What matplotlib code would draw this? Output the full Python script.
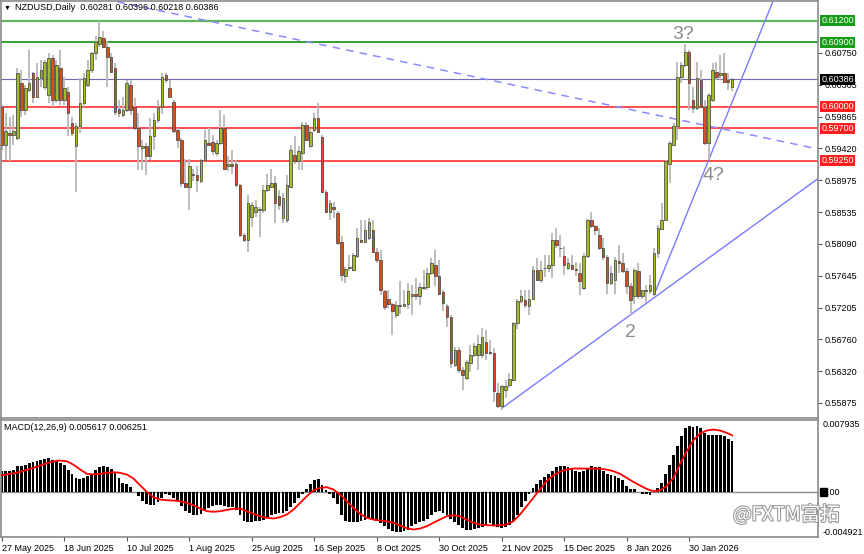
import numpy as np
import matplotlib
matplotlib.use('Agg')
import matplotlib.pyplot as plt
import matplotlib.transforms as mtransforms
import matplotlib.patheffects as pe
from matplotlib.patches import Rectangle

plt.rcParams['font.family'] = ['Liberation Sans', 'DejaVu Sans']

# NZDUSD daily candles, bar 0 = 27 May 2025
opens = [.6000, .5947, .5963, .5961, .5956, .6033, .5996, .6024, .6047, .6014,
         .6040, .6028, .6017, .6068, .6010, .6054, .6010, .6020, .5977, .5945,
         .5973, .6005, .6031, .6051, .6075, .6087, .6096, .6084, .6070, .6054,
         .5997, .5989, .5996, .6031, .6000, .5970, .5942, .5945, .5931, .5959,
         .5982, .6000, .6044, .6026, .6007, .5968, .5954, .5894, .5889, .5907,
         .5905, .5896, .5926, .5949, .5951, .5935, .5949, .5970, .5917, .5921,
         .5921, .5891, .5822, .5815, .5847, .5854, .5856, .5856, .5884, .5889,
         .5894, .5876, .5845, .5843, .5889, .5933, .5924, .5935, .5975, .5945,
         .5968, .5984, .5958, .5882, .5854, .5861, .5852, .5812, .5764, .5775,
         .5773, .5792, .5815, .5812, .5817, .5829, .5798, .5787, .5743, .5733,
         .5726, .5710, .5724, .5723, .5726, .5737, .5740, .5736, .5749, .5749,
         .5768, .5780, .5764, .5742, .5722, .5707, .5641, .5662, .5633, .5622,
         .5643, .5654, .5654, .5654, .5673, .5658, .5657, .5602, .5583, .5606,
         .5613, .5620, .5699, .5729, .5731, .5722, .5733, .5773, .5759, .5775,
         .5775, .5780, .5815, .5804, .5792, .5775, .5780, .5774, .5768, .5747,
         .5792, .5842, .5834, .5822, .5803, .5791, .5754, .5759, .5785, .5782,
         .5771, .5750, .5736, .5771, .5736, .5745, .5743, .5740, .5797, .5830,
         .5842, .5921, .5947, .5973, .6042, .6058, .6077, .6010, .5998, .6038,
         .6000, .5949, .6010, .6049, .6044, .6047, .6037, .60281]
highs = [.6003, .5991, .5986, .5989, .6054, .6051, .6031, .6079, .6049, .6061,
         .6065, .6065, .6075, .6072, .6065, .6079, .6042, .6028, .5986, .5977,
         .6040, .6047, .6065, .6077, .6098, .6119, .6105, .6091, .6075, .6061,
         .6010, .6014, .6038, .6038, .6012, .5991, .5954, .5949, .5984, .5991,
         .6010, .6047, .6047, .6037, .6010, .5970, .5956, .5928, .5928, .5914,
         .5917, .5928, .5968, .5970, .5961, .5954, .5996, .5989, .5931, .5940,
         .5926, .5893, .5824, .5877, .5868, .5870, .5861, .5891, .5907, .5914,
         .5903, .5884, .5880, .5905, .5947, .5959, .5945, .5979, .5979, .5970,
         .5991, .6005, .5961, .5884, .5870, .5868, .5855, .5820, .5777, .5794,
         .5796, .5831, .5842, .5842, .5845, .5842, .5803, .5801, .5745, .5745,
         .5727, .5729, .5757, .5745, .5754, .5752, .5761, .5754, .5773, .5775,
         .5789, .5801, .5787, .5745, .5726, .5710, .5666, .5666, .5638, .5648,
         .5668, .5671, .5682, .5692, .5689, .5675, .5664, .5615, .5613, .5620,
         .5629, .5701, .5733, .5745, .5745, .5745, .5778, .5789, .5785, .5794,
         .5794, .5824, .5831, .5822, .5806, .5789, .5794, .5784, .5782, .5796,
         .5844, .5853, .5836, .5831, .5817, .5794, .5778, .5791, .5808, .5796,
         .5775, .5754, .5775, .5782, .5745, .5752, .5766, .5803, .5835, .5866,
         .5926, .5952, .5977, .6063, .6063, .6088, .6079, .6028, .6063, .6051,
         .6010, .6019, .6061, .6063, .6072, .6075, .6047, .60396]
lows = [.5940, .5926, .5924, .5947, .5954, .5986, .5989, .6021, .6005, .6012,
        .6028, .6024, .6005, .6000, .6005, .6003, .6003, .5959, .5959, .5882,
        .5963, .6000, .6028, .6047, .6065, .6083, .6082, .6028, .6047, .5989,
        .5986, .5986, .5993, .5989, .5968, .5912, .5912, .5905, .5926, .5940,
        .5977, .5990, .6033, .6013, .5964, .5943, .5889, .5887, .5856, .5896,
        .5882, .5894, .5924, .5945, .5933, .5931, .5947, .5912, .5910, .5907,
        .5889, .5819, .5812, .5798, .5833, .5847, .5819, .5852, .5882, .5887,
        .5838, .5856, .5838, .5838, .5887, .5921, .5912, .5912, .5952, .5942,
        .5965, .5963, .5880, .5852, .5843, .5845, .5808, .5758, .5754, .5771,
        .5771, .5790, .5812, .5810, .5815, .5796, .5782, .5738, .5717, .5720,
        .5682, .5706, .5712, .5722, .5719, .5710, .5731, .5724, .5745, .5745,
        .5766, .5750, .5738, .5715, .5694, .5636, .5638, .5629, .5606, .5620,
        .5631, .5652, .5634, .5650, .5648, .5655, .5589, .5580, .5578, .5594,
        .5608, .5618, .5690, .5727, .5720, .5710, .5731, .5757, .5754, .5763,
        .5770, .5761, .5803, .5791, .5766, .5773, .5773, .5764, .5738, .5745,
        .5789, .5831, .5822, .5801, .5787, .5740, .5752, .5740, .5768, .5768,
        .5740, .5710, .5726, .5733, .5733, .5727, .5740, .5738, .5789, .5829,
        .5841, .5894, .5945, .5954, .6033, .6056, .5996, .5991, .5996, .5998,
        .5947, .5926, .6007, .6037, .6037, .6033, .6024, .60218]
closes = [.5947, .5966, .5961, .5967, .6047, .5996, .6026, .6033, .6014, .6042,
          .6051, .6063, .6068, .6010, .6058, .6010, .6026, .5991, .5963, .5973,
          .6005, .6040, .6051, .6075, .6090, .6097, .6084, .6070, .6049, .5993,
          .5992, .5996, .6033, .5996, .5970, .5945, .5946, .5931, .5959, .5982,
          .6000, .6042, .6037, .6014, .5966, .5954, .5894, .5888, .5917, .5905,
          .5898, .5926, .5954, .5947, .5938, .5949, .5970, .5914, .5921, .5917,
          .5891, .5822, .5815, .5866, .5863, .5861, .5858, .5884, .5891, .5894,
          .5866, .5863, .5873, .5891, .5940, .5924, .5938, .5975, .5954, .5965,
          .5984, .5965, .5882, .5854, .5866, .5858, .5810, .5766, .5774, .5777,
          .5794, .5817, .5812, .5829, .5839, .5798, .5787, .5745, .5721, .5725,
          .5716, .5724, .5723, .5726, .5743, .5740, .5736, .5749, .5748, .5768,
          .5782, .5764, .5740, .5727, .5707, .5643, .5662, .5633, .5627, .5645,
          .5654, .5667, .5669, .5680, .5657, .5657, .5604, .5583, .5611, .5611,
          .5621, .5699, .5729, .5736, .5724, .5733, .5773, .5759, .5773, .5775,
          .5780, .5815, .5808, .5803, .5780, .5782, .5774, .5773, .5757, .5792,
          .5842, .5834, .5829, .5803, .5791, .5754, .5769, .5787, .5782, .5771,
          .5750, .5731, .5773, .5736, .5745, .5743, .5752, .5797, .5831, .5842,
          .5924, .5949, .5973, .6042, .6058, .6077, .6033, .5998, .6040, .6000,
          .5949, .6017, .6051, .6042, .6047, .6035, .6035, .60386]

# MACD(12,26,9) main line (histogram), one value per bar
macd_main = [.00231, .00231, .00238, .00249, .00286, .00286, .00304, .00323, .00334, .00348,
             .00359, .00370, .00378, .00359, .00341, .00323, .00304, .00249, .00195, .00151,
             .00140, .00158, .00176, .00202, .00249, .00275, .00286, .00279, .00260, .00213,
             .00158, .00103, .00085, .00056, .00004, -.00044, -.00092, -.00128, -.00143, -.00135,
             -.00106, -.00062, -.00025, -.00036, -.00062, -.00092, -.00154, -.00201, -.00226, -.00245,
             -.00252, -.00237, -.00208, -.00171, -.00154, -.00135, -.00143, -.00154, -.00158, -.00165,
             -.00190, -.00245, -.00311, -.00325, -.00325, -.00319, -.00319, -.00300, -.00274, -.00245,
             -.00237, -.00230, -.00226, -.00208, -.00165, -.00117, -.00062, -.00018, .00030, .00092,
             .00129, .00140, .00078, .00019, -.00025, -.00062, -.00128, -.00245, -.00311, -.00325,
             -.00329, -.00325, -.00319, -.00300, -.00281, -.00289, -.00311, -.00336, -.00374, -.00399,
             -.00421, -.00435, -.00435, -.00429, -.00410, -.00374, -.00348, -.00325, -.00311, -.00289,
             -.00245, -.00215, -.00208, -.00226, -.00245, -.00289, -.00325, -.00355, -.00391, -.00410,
             -.00414, -.00399, -.00391, -.00384, -.00363, -.00336, -.00355, -.00384, -.00391, -.00384,
             -.00363, -.00311, -.00245, -.00165, -.00092, -.00025, .00041, .00092, .00129, .00165,
             .00202, .00238, .00275, .00293, .00286, .00275, .00260, .00238, .00224, .00231,
             .00268, .00286, .00282, .00275, .00238, .00195, .00187, .00176, .00158, .00129,
             .00066, .00030, .00030, .00004, -.00018, -.00025, -.00033, .00011, .00048, .00103,
             .00202, .00304, .00407, .00506, .00616, .00707, .00725, .00721, .00725, .00707,
             .00652, .00634, .00634, .00634, .00627, .00616, .00590, .00561]

# signal line, read at these bar positions
sig_x = [0, 3.8, 8.1, 12.4, 14.5, 16.6, 18.3, 20.1, 21.8, 23.5, 25.2, 26.9, 28.6, 30.3,
         32.0, 33.7, 35.4, 37.1, 38.8, 40.5, 42.2, 43.9, 45.6, 47.4, 49.1, 50.8, 52.5,
         54.2, 55.9, 57.6, 59.3, 61.0, 62.7, 64.4, 66.1, 67.8, 69.5, 71.2, 73.0, 74.7,
         76.4, 78.1, 79.8, 81.5, 83.2, 84.9, 86.6, 88.3, 90.0, 91.7, 93.4, 95.1, 96.8,
         98.5, 100.3, 102.0, 103.7, 105.4, 107.1, 108.8, 110.5, 112.2, 113.9, 115.6,
         117.3, 119.0, 120.7, 122.4, 124.2, 125.9, 127.6, 129.3, 131.0, 132.7, 134.4,
         136.1, 137.8, 139.5, 141.2, 142.9, 144.6, 146.3, 148.0, 149.8, 151.5, 153.2,
         154.9, 156.6, 158.3, 160.0, 161.7, 163.4, 165.1, 166.8, 168.5, 170.2, 172.0,
         173.6, 175.4, 177.1, 178.8, 180.5, 182.2, 183.9, 185.6, 187.0]
sig_v = [.00187, .00213, .00268, .00330, .00348, .00341, .00304, .00249, .00202, .00195,
         .00202, .00213, .00220, .00213, .00195, .00151, .00077, .00004, -.00055, -.00080,
         -.00088, -.00091, -.00099, -.00117, -.00143, -.00179, -.00209, -.00215, -.00209,
         -.00194, -.00183, -.00179, -.00209, -.00237, -.00264, -.00281, -.00289, -.00275,
         -.00245, -.00190, -.00117, -.00044, .00019, .00048, .00055, .00030, -.00025,
         -.00099, -.00171, -.00237, -.00281, -.00300, -.00311, -.00319, -.00336, -.00365,
         -.00395, -.00410, -.00399, -.00374, -.00336, -.00300, -.00264, -.00253, -.00264,
         -.00300, -.00336, -.00355, -.00362, -.00366, -.00362, -.00355, -.00319, -.00245,
         -.00154, -.00062, .00030, .00121, .00184, .00224, .00249, .00260, .00260, .00260,
         .00260, .00257, .00249, .00231, .00202, .00158, .00114, .00074, .00037, .00011,
         .00019, .00066, .00158, .00304, .00451, .00571, .00645, .00678, .00689, .00678,
         .00653, .00625]

date_labels = ['27 May 2025', '18 Jun 2025', '10 Jul 2025', '1 Aug 2025', '25 Aug 2025',
               '16 Sep 2025', '8 Oct 2025', '30 Oct 2025', '21 Nov 2025', '15 Dec 2025',
               '8 Jan 2026', '30 Jan 2026']
price_ticks = [0.60750, 0.60305, 0.59865, 0.59420, 0.58975, 0.58535, 0.58090,
               0.57645, 0.57205, 0.56760, 0.56320, 0.55875]
green_levels = [0.6120, 0.6090]
red_levels = [0.6000, 0.5970, 0.5925]
last_price = 0.60386

# trend lines (bar, price)
dash_line = ([20, 209], [0.61572, 0.59413])
low_line = ([128, 209], [0.5580, 0.5900])
steep_line = ([167, 200], [0.5738, 0.6181])

o = np.array(opens); h = np.array(highs); l = np.array(lows); c = np.array(closes)
x = np.arange(len(c))

fig = plt.figure(figsize=(8.64, 5.54), dpi=100)
fig.patch.set_facecolor('white')
ax = fig.add_axes([1/864, 1-418/554, 817/864, 417/554])
ax2 = fig.add_axes([1/864, 1-537/554, 817/864, 117/554])

for a in (ax, ax2):
    a.set_xlim(-0.2, 209)
    for s in a.spines.values():
        s.set_color('#8a8a8a')
        s.set_linewidth(1.2)

ax.set_ylim(0.55666, 0.61474)

# levels
ax.axhline(green_levels[0], color='#5cb85c', lw=1.6, zorder=1)
ax.axhline(green_levels[1], color='#1f9a1f', lw=1.3, zorder=1)
for lv in red_levels:
    ax.axhline(lv, color='#ff2a2a', lw=1.3, zorder=1, alpha=0.9)
ax.axhline(last_price, color='#6b6baf', lw=0.8, zorder=1)

# trend lines
ax.plot(*dash_line, color='#8a8aff', lw=1.1, ls=(0, (5, 4)), zorder=1)
ax.plot(*low_line, color='#7a7aff', lw=1.0, zorder=1)
ax.plot(*steep_line, color='#7a7aff', lw=1.0, zorder=1)

# candles
ax.vlines(x, l, h, color='#b8b8b8', lw=1.3, zorder=2)
up = c >= o
bottom = np.minimum(o, c)
height = np.maximum(np.abs(c - o), 0.00007)
ax.bar(x[up], height[up], bottom=bottom[up], width=0.66, color='#a3bb2a',
       edgecolor='#3c3c3c', linewidth=0.5, zorder=3)
ax.bar(x[~up], height[~up], bottom=bottom[~up], width=0.66, color='#d4501c',
       edgecolor='#3c3c3c', linewidth=0.5, zorder=3)

# wave labels
ax.text(171.6, 0.61008, '3?', color='#8c8c8c', fontsize=14, ha='left', va='center')
ax.text(179.5, 0.59050, '4?', color='#8c8c8c', fontsize=14, ha='left', va='center')
ax.text(159.6, 0.56863, '2', color='#8c8c8c', fontsize=14, ha='left', va='center')

# price axis
ax.yaxis.tick_right()
ax.set_yticks(price_ticks)
ax.set_yticklabels(['%.5f' % v for v in price_ticks])
ax.tick_params(axis='y', length=3, width=0.8, color='#555555', labelsize=6.5, pad=2)
ax.set_xticks([])

trans = mtransforms.blended_transform_factory(ax.transAxes, ax.transData)
boxes = [(0.6120, '#169c16'), (0.6090, '#169c16'), (last_price, '#000000'),
         (0.6000, '#ff1f1f'), (0.5970, '#ff1f1f'), (0.5925, '#ff1f1f')]
for v, col in boxes:
    ax.text(1.004, v, '%.5f' % v, transform=trans, color='white', fontsize=6.5,
            ha='left', va='center', clip_on=False, zorder=5,
            bbox=dict(boxstyle='square,pad=0.12', fc=col, ec='none'))

# MACD panel
ax2.set_ylim(-0.004921, 0.007935)
ax2.axhline(0, color='#8a8a8a', lw=1.0, zorder=1)
ax2.bar(x, macd_main, width=0.72, color='black', zorder=2)
ax2.plot(sig_x, sig_v, color='#ff0000', lw=1.3, zorder=3)
ax2.set_yticks([])
ax2.set_xticks(np.arange(len(date_labels)) * 16)
ax2.set_xticklabels(date_labels)
for lab in ax2.get_xticklabels():
    lab.set_horizontalalignment('left')
ax2.tick_params(axis='x', length=3, width=0.8, color='#555555', labelsize=6.5, pad=2)

trans2 = mtransforms.blended_transform_factory(ax2.transAxes, ax2.transData)
ax2.text(1.006, 0.007935, '0.007935', transform=trans2, fontsize=6.5, ha='left',
         va='top', clip_on=False)
ax2.text(1.006, -0.004921, '-0.004921', transform=trans2, fontsize=6.5, ha='left',
         va='bottom', clip_on=False)
ax2.add_patch(Rectangle((1.002, -0.00045), 0.009, 0.0009, transform=trans2,
                        color='black', clip_on=False, zorder=5))
ax2.text(1.006, 0, '0.00', transform=trans2, fontsize=6.5, ha='left', va='center',
         clip_on=False, zorder=6)

# header texts
fig.text(4/864, 1-8/554, '\u25bc', fontsize=5, va='center', ha='left')
fig.text(15/864, 1-8/554, 'NZDUSD,Daily  0.60281 0.60396 0.60218 0.60386',
         fontsize=6.5, va='center', ha='left')
fig.text(4/864, 1-427/554, 'MACD(12,26,9) 0.005617 0.006251', fontsize=6.5,
         va='center', ha='left')

# watermark
fig.text(733/864, 1-515/554, '@FXTM富拓', fontsize=14, color='white', va='center',
         ha='left', family=['Noto Sans CJK SC', 'DejaVu Sans'],
         path_effects=[pe.Stroke(linewidth=1.6, foreground='#9a9a9a'), pe.Normal()])

fig.savefig('out.png', dpi=100)
